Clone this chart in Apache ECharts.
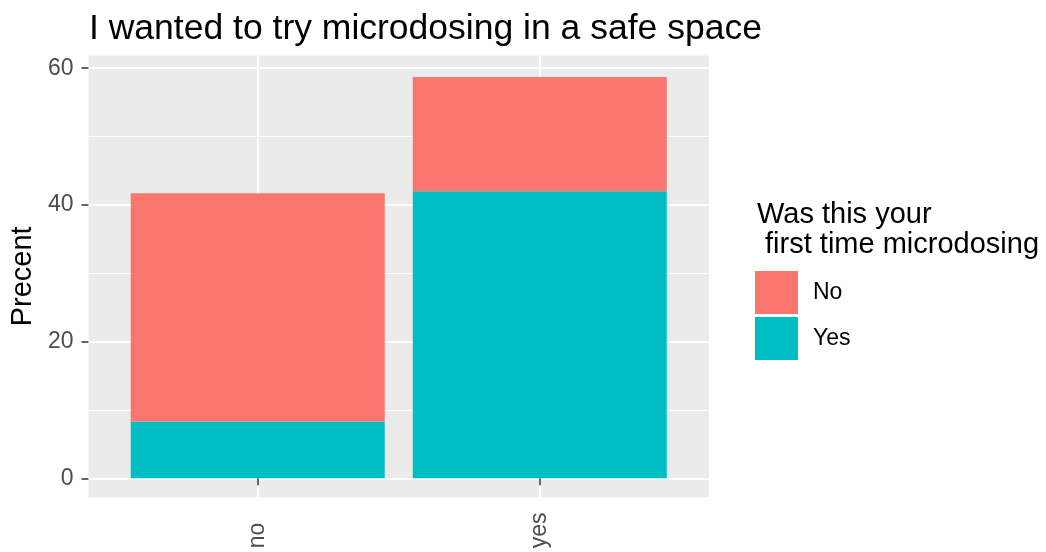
<!DOCTYPE html>
<html>
<head>
<meta charset="utf-8">
<script src="https://cdn.jsdelivr.net/npm/echarts@6/dist/echarts.min.js"></script>
<style>
  html, body { margin: 0; padding: 0; background: #fff; }
  #main { width: 1046px; height: 552px; }
</style>
</head>
<body>
<div id="main"></div>
<script>
// data
var categories = ['no', 'yes'];
var firstYes = [8.3, 42.0];    // teal, bottom of stack
var firstNo = [33.4, 16.7];    // red, top of stack
var yTicks = [0, 20, 40, 60];
var legendNames = ['No', 'Yes'];

var font = 'Liberation Sans, Arial, sans-serif';
var myChart = echarts.init(document.getElementById('main'));

// bars sit at x = 1, 2 on a value axis (like ggplot's discrete scale)
// value goes first so that the stack runs on y
function toPoints(arr) {
    var out = [];
    for (var i = 0; i < arr.length; i++) {
        out.push([arr[i], i + 1]);
    }
    return out;
}

var option = {
    animation: false,
    textStyle: { fontFamily: font },
    title: [
        {
            text: 'I wanted to try microdosing in a safe space',
            left: 84, top: 6,
            textStyle: { fontSize: 35.5, fontWeight: 'normal', color: '#000', fontFamily: font }
        },
        {
            text: 'Was this your\n first time microdosing',
            left: 752, top: 195,
            textStyle: { fontSize: 29, fontWeight: 'normal', color: '#000', lineHeight: 30, fontFamily: font }
        }
    ],
    legend: {
        data: legendNames,
        orient: 'vertical',
        left: 755, top: 271,
        itemWidth: 43, itemHeight: 43, itemGap: 3,
        padding: 0,
        icon: 'rect',
        textStyle: { fontSize: 23, color: '#000', padding: [0, 0, 0, 10], fontFamily: font }
    },
    grid: {
        left: 87, right: 337, top: 55.5, bottom: 54.7,
        show: true, backgroundColor: '#EBEBEB', borderWidth: 0,
        containLabel: false
    },
    xAxis: {
        type: 'value',
        min: 0.4, max: 2.6,
        splitNumber: 2,
        axisLine: { show: false },
        axisTick: { show: true, length: 7, lineStyle: { color: '#333', width: 1.5 }, customValues: [1, 2] },
        axisLabel: {
            customValues: [1, 2],
            rotate: 90, align: 'left', margin: 51,
            fontSize: 23, color: '#4D4D4D',
            formatter: function (v) { return categories[Math.round(v) - 1] || ''; }
        },
        splitLine: { show: true, lineStyle: { color: '#fff', width: 2 } }
    },
    yAxis: {
        type: 'value',
        min: -2.78, max: 61.86,
        splitNumber: 3,
        name: 'Precent',
        nameLocation: 'middle',
        nameGap: 50,
        nameTextStyle: { fontSize: 29, color: '#000', fontFamily: font },
        axisLine: { show: false },
        axisTick: { show: true, length: 7, lineStyle: { color: '#333', width: 1.5 }, customValues: yTicks },
        axisLabel: { customValues: yTicks, fontSize: 23, color: '#4D4D4D', margin: 15 },
        splitLine: { show: true, lineStyle: { color: '#fff', width: 2 } },
        minorTick: { show: false, splitNumber: 2 },
        minorSplitLine: { show: true, lineStyle: { color: '#fff', width: 1 } }
    },
    series: [
        {
            name: 'Yes',
            type: 'bar',
            stack: 'first',
            barWidth: 254,
            dimensions: ['val', 'pos'],
            encode: { x: 'pos', y: 'val' },
            itemStyle: { color: '#00BFC4' },
            data: toPoints(firstYes)
        },
        {
            name: 'No',
            type: 'bar',
            stack: 'first',
            barWidth: 254,
            dimensions: ['val', 'pos'],
            encode: { x: 'pos', y: 'val' },
            itemStyle: { color: '#F8766D' },
            data: toPoints(firstNo)
        }
    ]
};

myChart.setOption(option);
</script>
</body>
</html>
